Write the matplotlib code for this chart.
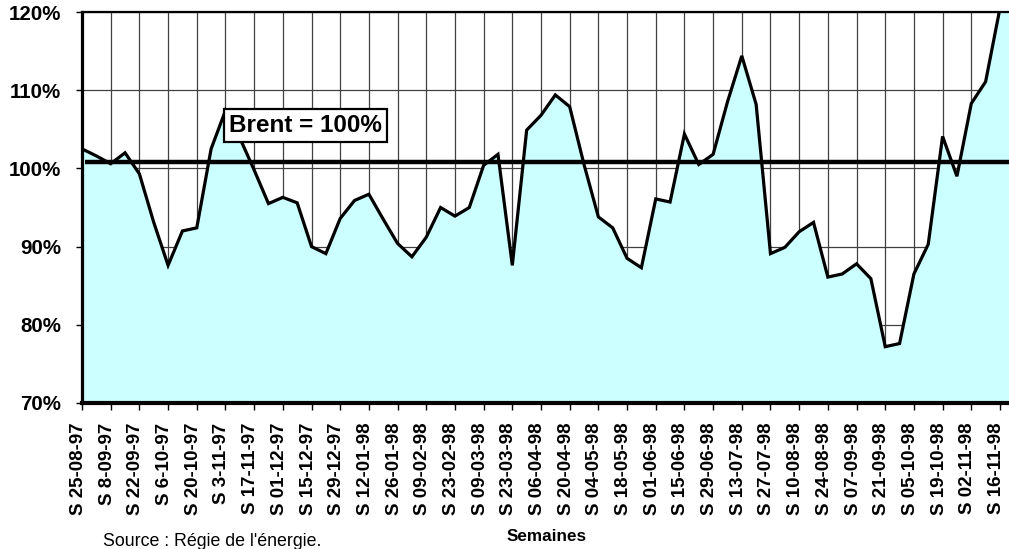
import matplotlib
matplotlib.use("Agg")
import matplotlib.pyplot as plt
import matplotlib.transforms as mtransforms
import numpy as np

plt.rcParams.update({
    "font.family": ["Liberation Sans", "DejaVu Sans"],
    "axes.axisbelow": True,
})

# weekly ratio to Brent (%), week 0 = S 25-08-97
values = [102.5, 101.6, 100.6, 102.0, 99.3, 93.1, 87.6, 92.0, 92.4, 102.5,
          107.4, 103.9, 99.8, 95.5, 96.3, 95.6, 90.0, 89.1, 93.6, 95.9,
          96.7, 93.5, 90.4, 88.7, 91.2, 95.0, 93.9, 95.0, 100.4, 101.8,
          87.6, 104.9, 106.8, 109.4, 107.9, 100.5, 93.8, 92.4, 88.5, 87.3,
          96.1, 95.7, 104.4, 100.5, 101.8, 108.5, 114.4, 108.2, 89.1, 89.9,
          91.9, 93.1, 86.1, 86.5, 87.8, 85.9, 77.2, 77.6, 86.5, 90.3,
          104.1, 99.0, 108.3, 111.1, 120.5, 124.0]
labels = ["S 25-08-97", "S 8-09-97", "S 22-09-97", "S 6-10-97", "S 20-10-97",
          "S 3-11-97", "S 17-11-97", "S 01-12-97", "S 15-12-97", "S 29-12-97",
          "S 12-01-98", "S 26-01-98", "S 09-02-98", "S 23-02-98", "S 09-03-98",
          "S 23-03-98", "S 06-04-98", "S 20-04-98", "S 04-05-98", "S 18-05-98",
          "S 01-06-98", "S 15-06-98", "S 29-06-98", "S 13-07-98", "S 27-07-98",
          "S 10-08-98", "S 24-08-98", "S 07-09-98", "S 21-09-98", "S 05-10-98",
          "S 19-10-98", "S 02-11-98", "S 16-11-98"]
brent = 100.8
yticks = [70, 80, 90, 100, 110, 120]

x = np.arange(len(values))
fig = plt.figure(figsize=(10.09, 5.49), dpi=100)
ax = fig.add_axes([0.0813, 0.266, 0.9187, 0.712])

ax.fill_between(x, 70, values, color="#CCFFFF", lw=0, zorder=1)
ax.plot(x, values, color="black", lw=2.3, zorder=2.5, solid_joinstyle="miter")
ax.hlines(brent, 0.2, 70, color="black", lw=3.2, zorder=3)

ax.set_xlim(0, 64.63)
ax.set_ylim(70, 120)
ax.set_xticks(x[::2][:len(labels)])
ax.set_xticklabels(labels, rotation=90, fontsize=13.5, fontweight="bold")
ax.set_yticks(yticks)
ax.set_yticklabels([f"{v}%" for v in yticks], fontsize=14.8, fontweight="bold")
ax.tick_params(axis="x", length=5, width=1, pad=9)
ax.tick_params(axis="y", length=4, width=1, pad=11)
off = mtransforms.ScaledTranslation(-3.5 / 100, 0, fig.dpi_scale_trans)
for lab in ax.get_xticklabels():
    lab.set_transform(lab.get_transform() + off)

ax.grid(True, color="#404040", lw=0.9)
ax.spines["right"].set_visible(False)
ax.spines["left"].set_linewidth(2.3)
ax.spines["bottom"].set_linewidth(3.0)
ax.spines["top"].set_linewidth(1.6)

ax.text(15.58, 105.5, "Brent = 100%", fontsize=17.5, fontweight="bold",
        ha="center", va="center", zorder=5,
        bbox=dict(boxstyle="square,pad=0.2", fc="white", ec="black", lw=1.6))

fig.text(0.542, 0.022, "Semaines", fontsize=12.3, fontweight="bold", ha="center", va="center")
fig.text(0.210, 0.0128, "Source : Régie de l'énergie.", fontsize=12.8, ha="center", va="center")

fig.savefig("out.png", dpi=100)
